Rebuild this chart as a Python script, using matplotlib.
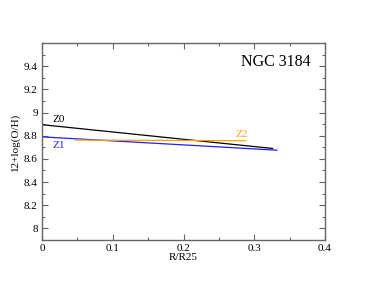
import matplotlib
matplotlib.use('Agg')
import matplotlib.pyplot as plt
from matplotlib.ticker import MultipleLocator

plt.rcParams['font.family'] = ['Liberation Serif', 'DejaVu Serif']

# gradient fits: endpoints (R/R25, 12+log(O/H))
z0_x = [0.0, 0.326]
z0_y = [8.895, 8.69]
z1_x = [0.0, 0.332]
z1_y = [8.79, 8.675]
z2_x = [0.047, 0.288]
z2_y = [8.762, 8.757]

galaxy = 'NGC 3184'

fig = plt.figure(figsize=(3.66, 2.83), dpi=100)
ax = fig.add_axes([42 / 366, 1 - 240 / 283, 283 / 366, 197 / 283])

ax.plot(z0_x, z0_y, color='black', lw=0.9)
ax.plot(z1_x, z1_y, color='#2020ff', lw=0.9)
ax.plot(z2_x, z2_y, color='#ffa500', lw=0.9)

ax.text(0.015, 8.915, 'Z0', color='black', fontsize=8)
ax.text(0.015, 8.69, 'Z1', color='#2020ff', fontsize=8)
ax.text(0.274, 8.785, 'Z2', color='#ffa500', fontsize=8)
ax.text(0.38, 9.44, galaxy, fontsize=11.5, ha='right', va='center')

ax.set_xlim(0, 0.4)
ax.set_ylim(7.9, 9.6)
ax.xaxis.set_minor_locator(MultipleLocator(0.05))
ax.yaxis.set_minor_locator(MultipleLocator(0.1))
ax.set_xticks([0, 0.1, 0.2, 0.3, 0.4])
ax.set_xticklabels(['0', '0.1', '0.2', '0.3', '0.4'])
ax.set_yticks([8, 8.2, 8.4, 8.6, 8.8, 9, 9.2, 9.4])
ax.set_yticklabels(['8', '8.2', '8.4', '8.6', '8.8', '9', '9.2', '9.4'])

ax.tick_params(which='both', direction='in', top=True, right=True,
               color='#666666', labelsize=8, pad=3)
ax.tick_params(which='major', length=4, width=0.8)
ax.tick_params(which='minor', length=2, width=0.8)
for s in ax.spines.values():
    s.set_color('#666666')
    s.set_linewidth(1.0)

ax.set_xlabel('R/R25', fontsize=8, labelpad=0)
ax.set_ylabel('12+log(O/H)', fontsize=8, labelpad=3)

fig.savefig('out.png', dpi=100, facecolor='white')
